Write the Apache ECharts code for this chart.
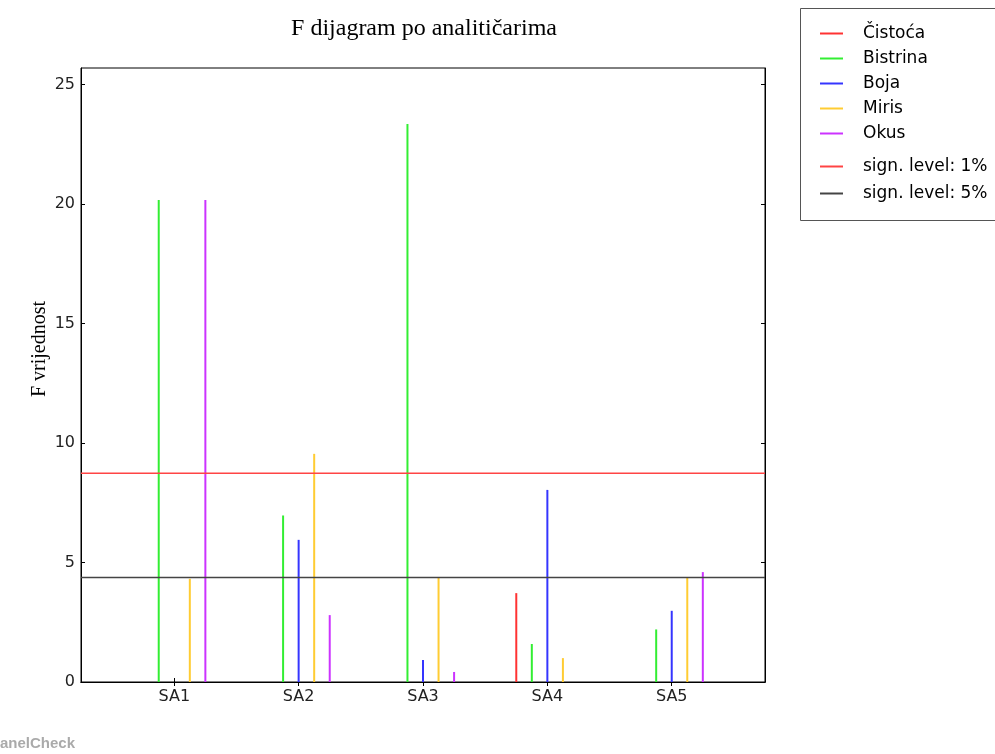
<!DOCTYPE html>
<html>
<head>
<meta charset="utf-8">
<script src="https://cdn.jsdelivr.net/npm/echarts@6/dist/echarts.min.js"></script>
<style>html,body{margin:0;padding:0;background:#fff;}#c{width:995px;height:754px;}</style>
</head>
<body>
<div id="c"></div>
<script>
var categories = ['SA1', 'SA2', 'SA3', 'SA4', 'SA5'];
var attributes = ['Čistoća', 'Bistrina', 'Boja', 'Miris', 'Okus'];
var cistoca  = [0, 0, 0, 3.72, 0];
var bistrina = [20.17, 6.97, 23.36, 1.59, 2.2];
var boja     = [0, 5.95, 0.92, 8.04, 2.98];
var miris    = [4.32, 9.55, 4.38, 1.0, 4.36];
var okus     = [20.17, 2.8, 0.42, 0, 4.6];
var sign1 = 8.74;
var sign5 = 4.37;
var signNames = ['sign. level: 1%', 'sign. level: 5%'];
var yTicks = [0, 5, 10, 15, 20, 25];

var seriesValues = [cistoca, bistrina, boja, miris, okus];
var colors = ['#ff3333', '#33ee33', '#3535ff', '#ffcc33', '#cc33ff'];
var offsets = [-0.25, -0.125, 0, 0.125, 0.25];
var xPos = categories.map(function (c, i) { return i + 1; });

var series = [];
attributes.forEach(function (name, k) {
  var data = seriesValues[k].map(function (v, i) { return [xPos[i] + offsets[k], v]; });
  series.push({
    name: name,
    type: 'custom',
    itemStyle: { color: colors[k] },
    data: data,
    renderItem: function (params, api) {
      var p0 = api.coord([api.value(0), 0]);
      var p1 = api.coord([api.value(0), api.value(1)]);
      return {
        type: 'line',
        shape: { x1: p0[0], y1: p0[1], x2: p1[0], y2: p1[1] },
        style: { stroke: colors[k], lineWidth: 2 }
      };
    }
  });
});
series.push({
  name: signNames[0], type: 'line', symbol: 'none', z: 5,
  itemStyle: { color: '#ff4444' },
  lineStyle: { color: '#ff4444', width: 1.5 },
  data: [[0.25, sign1], [5.75, sign1]]
});
series.push({
  name: signNames[1], type: 'line', symbol: 'none', z: 5,
  itemStyle: { color: '#444444' },
  lineStyle: { color: '#444444', width: 1.5 },
  data: [[0.25, sign5], [5.75, sign5]]
});

var chart = echarts.init(document.getElementById('c'), null, { renderer: 'canvas' });
var legendText = { fontFamily: 'DejaVu Sans', fontSize: 17, color: '#000', padding: [0, 0, 0, 15] };
chart.setOption({
  animation: false,
  backgroundColor: '#fff',
  title: {
    text: 'F dijagram po analitičarima',
    left: 419, top: 12, textAlign: 'center',
    textStyle: { fontFamily: 'Liberation Serif', fontSize: 24, fontWeight: 'normal', color: '#000' }
  },
  grid: { left: 81, right: 230, top: 68, bottom: 72, show: true, borderColor: '#000', borderWidth: 1, backgroundColor: 'transparent' },
  legend: [{
    orient: 'vertical', left: 815, top: 20, itemGap: 8,
    itemWidth: 23, itemHeight: 2, icon: 'rect',
    textStyle: legendText,
    data: attributes
  }, {
    orient: 'vertical', left: 815, top: 153, itemGap: 10,
    itemWidth: 23, itemHeight: 2, icon: 'rect',
    textStyle: legendText,
    data: signNames
  }],
  xAxis: [{
    type: 'value', min: 0.25, max: 5.75,
    axisLine: { show: true, onZero: false, lineStyle: { color: '#000', width: 1 } },
    splitLine: { show: false },
    axisTick: { show: true, inside: true, length: 4, customValues: xPos, lineStyle: { color: '#000' } },
    axisLabel: { customValues: xPos, margin: 7, formatter: function (v) { return categories[Math.round(v) - 1] || ''; }, fontFamily: 'DejaVu Sans', fontSize: 16, color: '#222' }
  }, {
    type: 'value', min: 0.25, max: 5.75, position: 'top',
    axisLine: { show: true, lineStyle: { color: '#000' } },
    splitLine: { show: false },
    axisTick: { show: true, inside: true, length: 4, customValues: xPos, lineStyle: { color: '#000' } },
    axisLabel: { show: false }
  }],
  yAxis: [{
    type: 'value', min: 0, max: 25.7,
    axisLine: { show: true, lineStyle: { color: '#000' } },
    splitLine: { show: false },
    axisTick: { show: true, inside: true, length: 4, customValues: yTicks, lineStyle: { color: '#000' } },
    axisLabel: { customValues: yTicks, margin: 6, fontFamily: 'DejaVu Sans', fontSize: 16, color: '#222' }
  }, {
    type: 'value', min: 0, max: 25.7, position: 'right',
    axisLine: { show: true, lineStyle: { color: '#000' } },
    splitLine: { show: false },
    axisTick: { show: true, inside: true, length: 4, customValues: yTicks, lineStyle: { color: '#000' } },
    axisLabel: { show: false }
  }],
  graphic: [
    { type: 'rect', left: 798, top: 6, shape: { width: 215, height: 212 }, style: { fill: 'none', stroke: '#555', lineWidth: 1 }, z: -1 },
    { type: 'text', x: 40, y: 349, rotation: Math.PI / 2,
      style: { text: 'F vrijednost', font: '20px "Liberation Serif"', fill: '#000', textAlign: 'center', textVerticalAlign: 'middle' } },
    { type: 'text', x: 75, y: 744,
      style: { text: 'PanelCheck', font: 'bold 15px "Liberation Sans"', fill: '#aaaaaa', textAlign: 'right', textVerticalAlign: 'middle' } }
  ],
  series: series
});
</script>
</body>
</html>
